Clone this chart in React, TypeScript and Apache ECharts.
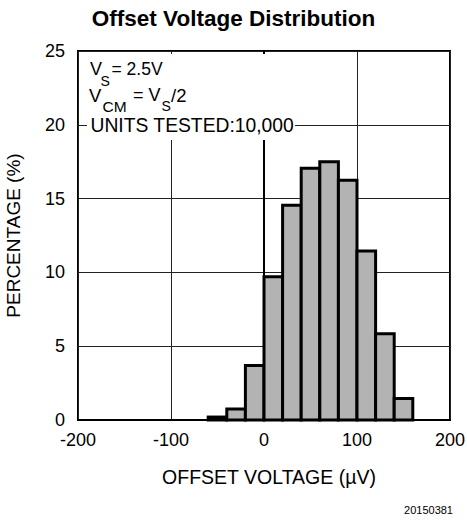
import React, { useEffect, useRef } from 'react';
import * as echarts from 'echarts';

const binStarts = [-60, -40, -20, 0, 20, 40, 60, 80, 100, 120, 140];
const binWidth = 20;
const percentages = [0.2, 0.75, 3.7, 9.7, 14.55, 17.05, 17.5, 16.25, 11.45, 5.85, 1.45];
const xRange = [-200, 200];
const xStep = 100;
const yRange = [0, 25];
const yStep = 5;

const FONT = '"Liberation Sans", Arial, Helvetica, sans-serif';

export default function App() {
  const ref = useRef<HTMLDivElement>(null);
  useEffect(() => {
    if (!ref.current) return;
    const chart = echarts.init(ref.current, null, { renderer: 'svg' });
    const data = binStarts.map((s, i) => [s, s + binWidth, percentages[i]]);
    const txt = (text: string, x: number, y: number, size: number) => ({
      type: 'text',
      x,
      y,
      z: 60,
      style: {
        text,
        fill: '#000',
        fontSize: size,
        fontFamily: FONT,
        align: 'left',
        verticalAlign: 'middle',
      },
    });
    chart.setOption({
      animation: false,
      backgroundColor: '#fff',
      title: {
        text: 'Offset Voltage Distribution',
        left: 'center',
        top: 2,
        textStyle: { fontSize: 22.5, fontWeight: 'bold', color: '#000', fontFamily: FONT },
      },
      grid: {
        left: 78,
        right: 17,
        top: 51,
        bottom: 104,
        show: true,
        borderColor: '#000',
        borderWidth: 2,
        backgroundColor: 'transparent',
        containLabel: false,
        outerBoundsMode: 'none',
      },
      xAxis: {
        type: 'value',
        min: xRange[0],
        max: xRange[1],
        interval: xStep,
        name: 'OFFSET VOLTAGE (\u00b5V)',
        nameLocation: 'middle',
        nameGap: 47,
        nameTextStyle: { fontSize: 19.5, color: '#000', fontFamily: FONT, padding: [0, 0, 0, 10] },
        axisLine: { show: true, lineStyle: { color: '#000', width: 2 } },
        axisTick: { show: false },
        axisLabel: { fontSize: 18, color: '#000', fontFamily: FONT, margin: 11 },
        splitLine: { show: true, lineStyle: { color: '#222', width: 1 } },
      },
      yAxis: {
        type: 'value',
        min: yRange[0],
        max: yRange[1],
        interval: yStep,
        name: 'PERCENTAGE (%)',
        nameLocation: 'middle',
        nameGap: 55,
        nameTextStyle: { fontSize: 19, color: '#000', fontFamily: FONT },
        axisLine: { show: true, lineStyle: { color: '#000', width: 2 } },
        axisTick: { show: false },
        axisLabel: { fontSize: 18, color: '#000', fontFamily: FONT, margin: 13 },
        splitLine: { show: true, lineStyle: { color: '#222', width: 1 } },
      },
      series: [
        {
          type: 'custom',
          data,
          encode: { x: [0, 1], y: 2 },
          renderItem: (params: any, api: any) => {
            const p0 = api.coord([api.value(0), api.value(2)]);
            const p1 = api.coord([api.value(1), 0]);
            return {
              type: 'rect',
              shape: { x: p0[0], y: p0[1], width: p1[0] - p0[0], height: p1[1] - p0[1] },
              style: { fill: '#b3b3b3', stroke: '#000', lineWidth: 3 },
            };
          },
          z: 5,
        },
      ],
      graphic: [
        {
          type: 'rect',
          z: 50,
          shape: { x: 87, y: 54, width: 208, height: 86 },
          style: { fill: '#fff' },
        },
        txt('V', 90, 69, 18),
        txt('S', 100.5, 80.5, 14),
        txt('= 2.5V', 111.5, 69, 17.5),
        txt('V', 89, 95, 18.5),
        txt('CM', 102.5, 106, 15.5),
        txt('= V', 133, 95, 18),
        txt('S', 161.5, 106, 14),
        txt('/2', 171, 95, 18.5),
        txt('UNITS TESTED:10,000', 90.5, 125, 19.3),
        {
          type: 'text',
          x: 453,
          y: 510,
          z: 60,
          style: {
            text: '20150381',
            fill: '#000',
            fontSize: 11,
            fontFamily: FONT,
            align: 'right',
            verticalAlign: 'middle',
          },
        },
      ],
    });
    return () => chart.dispose();
  }, []);
  return (
    <div
      ref={ref}
      style={{ position: 'fixed', left: 0, top: 0, width: 467, height: 524, background: '#fff' }}
    />
  );
}
